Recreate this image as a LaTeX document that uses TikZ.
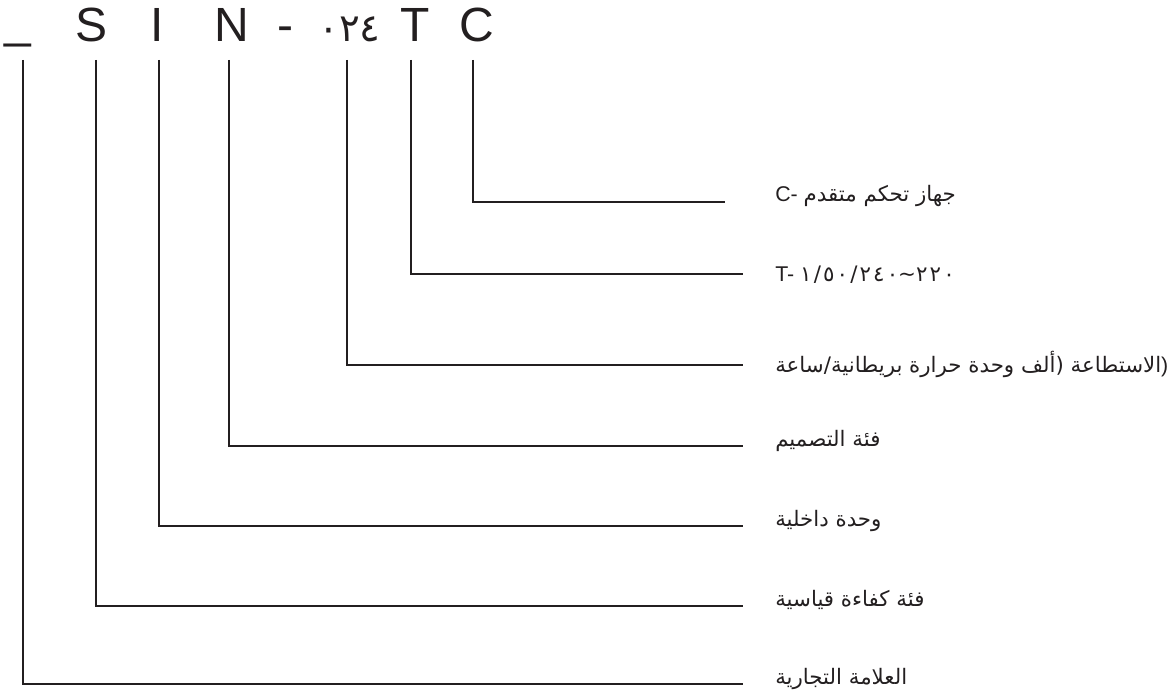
\documentclass[tikz,border=0pt]{standalone}
\usepackage{fontspec}
\setmainfont{Liberation Sans}
\newfontfamily\arabicfont[Script=Arabic]{DejaVu Sans}
\TeXXeTstate=1
\definecolor{inkgray}{RGB}{35,31,32}

\begin{document}
\begin{tikzpicture}[x=0.75pt, y=-0.75pt,
    code/.style={anchor=base, inner sep=0pt, font=\fontsize{36}{40}\selectfont, text=inkgray},
    lbl/.style={anchor=base west, inner sep=0pt, font=\fontsize{16}{19}\selectfont, text=inkgray},
    lead/.style={draw=inkgray, line width=1.4pt}
]
\useasboundingbox (0,0) rectangle (1174,691);
% model code
\node[code] (kU) at (18,38)  {\_};
\node[code] (kS) at (92,42)  {S};
\node[code] (kI) at (157,42) {I};
\node[code] (kN) at (232,42) {N};
\node[code] (kD) at (285,42) {-};
\node[code, anchor=base west] (kM) at (318,42) {\arabicfont\fontsize{29}{32}\selectfont ٠٢٤};
\node[code] (kT) at (415,42) {T};
\node[code] (kC) at (477,42) {C};
% labels
\node[lbl] (lC) at (775,202) {C- {\arabicfont\beginR جهاز تحكم متقدم\endR}};
\node[lbl] (lT) at (775,282) {T- {\arabicfont\addfontfeature{LetterSpace=10}%
  \mbox{١/٥٠/٢٤٠}\mbox{\textasciitilde}\mbox{٢٢٠}}};
\node[lbl] (lM) at (775,373) {{\arabicfont\beginR الاستطاعة (ألف وحدة حرارة بريطانية/ساعة\endR})};
\node[lbl] (lN) at (775,446) {\arabicfont\beginR فئة التصميم\endR};
\node[lbl] (lI) at (775,526) {\arabicfont\beginR وحدة داخلية\endR};
\node[lbl] (lS) at (775,606) {\arabicfont\beginR فئة كفاءة قياسية\endR};
\node[lbl] (lU) at (775,684) {\arabicfont\beginR العلامة التجارية\endR};
% leader lines
\coordinate (vU) at (23,60);  \coordinate (eU) at (743,684);
\coordinate (vS) at (96,60);  \coordinate (eS) at (743,606);
\coordinate (vI) at (159,60); \coordinate (eI) at (743,526);
\coordinate (vN) at (229,60); \coordinate (eN) at (743,446);
\coordinate (vM) at (347,60); \coordinate (eM) at (743,365);
\coordinate (vT) at (411,60); \coordinate (eT) at (743,274);
\coordinate (vC) at (473,60); \coordinate (eC) at (725,202);
\draw[lead] (vU) |- (eU);
\draw[lead] (vS) |- (eS);
\draw[lead] (vI) |- (eI);
\draw[lead] (vN) |- (eN);
\draw[lead] (vM) |- (eM);
\draw[lead] (vT) |- (eT);
\draw[lead] (vC) |- (eC);
\end{tikzpicture}
\end{document}
